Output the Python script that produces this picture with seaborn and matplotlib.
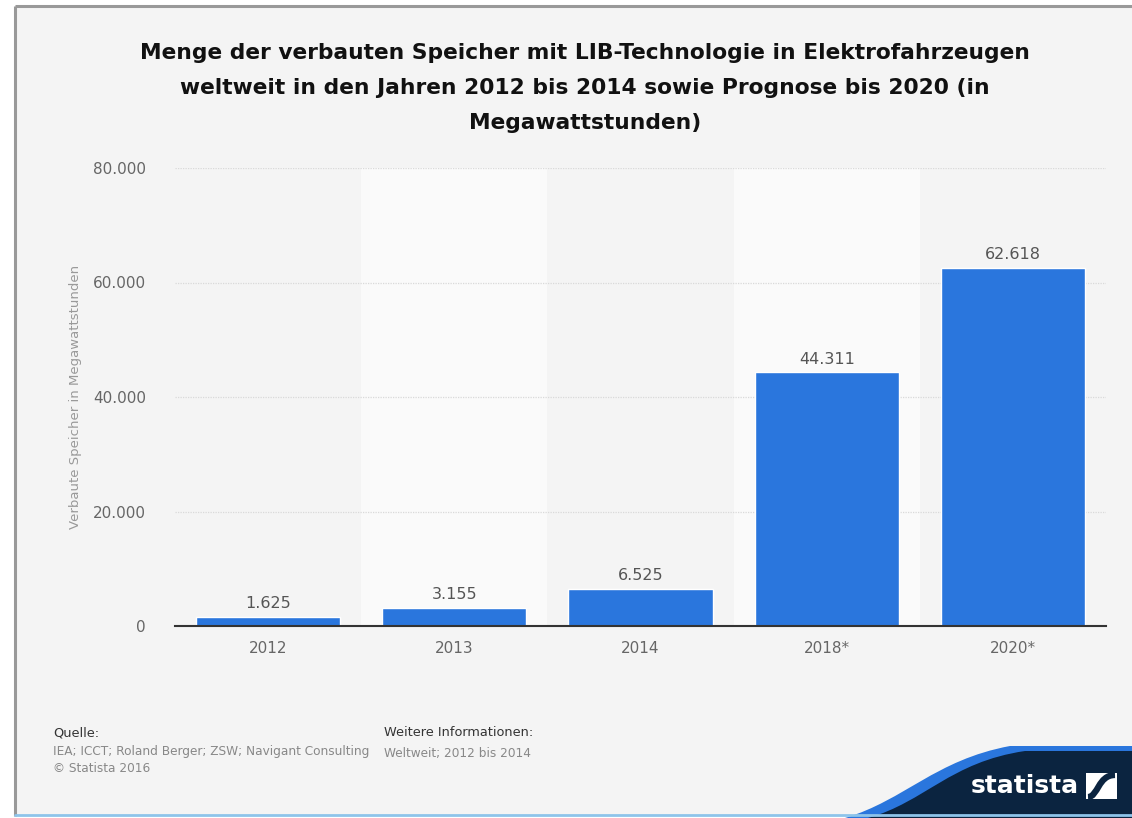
import matplotlib
matplotlib.use("Agg")
import matplotlib.pyplot as plt
from matplotlib.path import Path
from matplotlib.patches import PathPatch, Rectangle
import seaborn as sns
import pandas as pd

# Data (MWh)
years = ["2012", "2013", "2014", "2018*", "2020*"]
storage_mwh = [1625, 3155, 6525, 44311, 62618]
y_ticks = [0, 20000, 40000, 60000, 80000]

title = ("Menge der verbauten Speicher mit LIB-Technologie in Elektrofahrzeugen\n"
         "weltweit in den Jahren 2012 bis 2014 sowie Prognose bis 2020 (in\n"
         "Megawattstunden)")
y_label = "Verbaute Speicher in Megawattstunden"


def de_format(v):
    return f"{int(v):,}".replace(",", ".")


sns.set_theme(style="white")
plt.rcParams["font.family"] = ["DejaVu Sans"]

W, H = 1132, 818
fig = plt.figure(figsize=(W / 100, H / 100), dpi=100)
fig.patch.set_facecolor("white")

# Background canvas in pixel coordinates
bg = fig.add_axes([0, 0, 1, 1], zorder=-1)
bg.set_xlim(0, W)
bg.set_ylim(H, 0)
bg.axis("off")
bg.add_patch(Rectangle((15, 6), W - 15, 810, facecolor="#f4f4f4", edgecolor="none"))
bg.plot([15, W], [6, 6], color="#999999", lw=2.2, solid_capstyle="butt")
bg.plot([15, 15], [6, 816], color="#999999", lw=2.2, solid_capstyle="butt")
bg.plot([15, W], [815, 815], color="#8ec4ea", lw=2.0)

# Brand wave in the lower right corner
blue_wave = Path(
    [(845, 818), (905, 800), (935, 760), (1010, 746), (W, 746), (W, 818), (845, 818)],
    [Path.MOVETO, Path.CURVE4, Path.CURVE4, Path.CURVE4, Path.LINETO, Path.LINETO, Path.CLOSEPOLY],
)
bg.add_patch(PathPatch(blue_wave, facecolor="#2a76dd", edgecolor="none"))
navy_wave = Path(
    [(868, 818), (925, 802), (950, 762), (1025, 751), (W, 751), (W, 818), (868, 818)],
    [Path.MOVETO, Path.CURVE4, Path.CURVE4, Path.CURVE4, Path.LINETO, Path.LINETO, Path.CLOSEPOLY],
)
bg.add_patch(PathPatch(navy_wave, facecolor="#0b2440", edgecolor="none"))
bg.text(1079, 786, "statista", color="white", fontsize=18, fontweight="bold",
        ha="right", va="center")
bg.add_patch(Rectangle((1086, 773), 31, 26, facecolor="white", edgecolor="none"))
icon = Path(
    [(1088, 797), (1098, 797), (1098, 775), (1115, 775)],
    [Path.MOVETO, Path.CURVE4, Path.CURVE4, Path.CURVE4],
)
bg.add_patch(PathPatch(icon, facecolor="none", edgecolor="#0b2440", lw=4.5))

# Main chart
ax_left, ax_right, ax_top, ax_bottom = 175, 1106, 168, 626
ax = fig.add_axes([ax_left / W, (H - ax_bottom) / H,
                   (ax_right - ax_left) / W, (ax_bottom - ax_top) / H])
ax.set_facecolor("none")

df = pd.DataFrame({"year": years, "mwh": storage_mwh})
sns.barplot(data=df, x="year", y="mwh", color="#2a76dd", saturation=1,
            width=0.775, ax=ax, zorder=3)

ax.set_xlim(-0.5, len(years) - 0.5)
ax.set_ylim(0, 80000)

for i in range(1, len(years), 2):
    ax.axvspan(i - 0.5, i + 0.5, facecolor="#fafafa", edgecolor="none", zorder=0)

for t in y_ticks[1:]:
    ax.axhline(t, color="#d9d9d9", lw=0.9, ls=(0, (1, 1)), zorder=1)

ax.set_yticks(y_ticks)
ax.set_yticklabels([de_format(t) for t in y_ticks])
ax.tick_params(axis="both", length=0, labelsize=11, labelcolor="#666666")
ax.tick_params(axis="y", pad=21)
ax.tick_params(axis="x", pad=11)

for s in ["top", "right", "left"]:
    ax.spines[s].set_visible(False)
ax.spines["bottom"].set_color("#333333")
ax.spines["bottom"].set_linewidth(1.5)
ax.spines["bottom"].set_zorder(4)

ax.bar_label(ax.containers[0], labels=[de_format(v) for v in storage_mwh],
             padding=4, fontsize=11.5, color="#555555")

ax.set_xlabel("")
ax.set_ylabel(y_label, fontsize=9.5, color="#999999", labelpad=8)

fig.text(0.517, 1 - 88 / H, title, ha="center", va="center", fontsize=15.7,
         fontweight="bold", color="#111111", linespacing=1.92)

# Footer
fig.text(53 / W, 1 - 733 / H, "Quelle:", fontsize=9.3, color="#333333", va="center")
fig.text(53 / W, 1 - 751 / H, "IEA; ICCT; Roland Berger; ZSW; Navigant Consulting",
         fontsize=8.75, color="#888888", va="center")
fig.text(53 / W, 1 - 769 / H, "© Statista 2016", fontsize=8.75, color="#888888", va="center")
fig.text(384 / W, 1 - 733 / H, "Weitere Informationen:", fontsize=9.3, color="#333333", va="center")
fig.text(384 / W, 1 - 754 / H, "Weltweit; 2012 bis 2014", fontsize=8.75, color="#888888", va="center")

fig.savefig("out.png", dpi=100)
